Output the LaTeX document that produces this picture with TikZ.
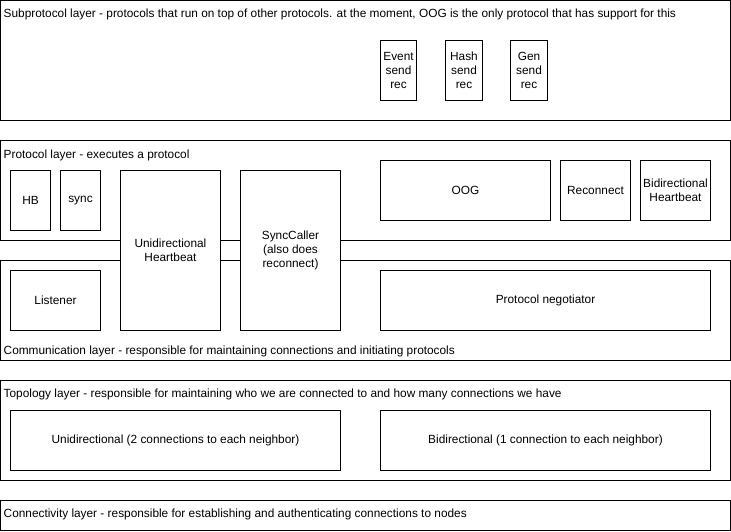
\documentclass[tikz,border=0pt]{standalone}
\usepackage{fontspec}
\setmainfont{Liberation Sans}
\begin{document}
\begin{tikzpicture}[x=1pt,y=-1pt,
  layer/.style={draw=black, line width=1pt, fill=white, inner sep=0pt, outer sep=0pt, anchor=north west},
  box/.style={draw=black, line width=1pt, fill=white, inner sep=0pt, outer sep=0pt, anchor=north west, align=center, font=\fontsize{11.85}{14}\selectfont},
  lbl/.style={inner sep=0pt, anchor=west, font=\fontsize{11.85}{14}\selectfont}]
\useasboundingbox (-0.5,-0.5) rectangle (730.5,530.5);
% layers
\node[layer, minimum width=730pt, minimum height=120pt] (sub) at (0,0) {};
\node[layer, minimum width=730pt, minimum height=100pt] (prot) at (0,140) {};
\node[layer, minimum width=730pt, minimum height=100pt] (comm) at (0,260) {};
\node[layer, minimum width=730pt, minimum height=100pt] (topo) at (0,380) {};
\node[layer, minimum width=730pt, minimum height=30pt] (conn) at (0,500) {};
% layer labels
\node[lbl] (subl) at (3,14) {Subprotocol layer - protocols that run on top of other protocols. at the moment, OOG is the only protocol that has support for this};
\node[lbl] (protl) at (3,154.5) {Protocol layer - executes a protocol};
\node[lbl] (comml) at (3,351) {Communication layer - responsible for maintaining connections and initiating protocols};
\node[lbl] (topol) at (3,394) {Topology layer - responsible for maintaining who we are connected to and how many connections we have};
\node[lbl] (connl) at (3,514) {Connectivity layer - responsible for establishing and authenticating connections to nodes};
% subprotocol boxes
\node[box, minimum width=36pt, minimum height=60pt] (event) at (380,40) {Event\\send\\rec};
\node[box, minimum width=37pt, minimum height=60pt] (hash) at (445,40) {Hash\\send\\rec};
\node[box, minimum width=37pt, minimum height=60pt] (gen) at (510,40) {Gen\\send\\rec};
% protocol layer boxes
\node[box, minimum width=40pt, minimum height=60pt] (hb) at (10,170) {HB};
\node[box, minimum width=40pt, minimum height=60pt] (sync) at (60,170) {sync};
\node[box, minimum width=170pt, minimum height=60pt] (oog) at (380,160) {OOG};
\node[box, minimum width=70pt, minimum height=60pt] (recon) at (560,160) {Reconnect};
\node[box, minimum width=70pt, minimum height=60pt] (bihb) at (640,160) {Bidirectional\\Heartbeat};
% spanning boxes
\node[box, minimum width=100pt, minimum height=160pt] (unihb) at (120,170) {Unidirectional\\Heartbeat};
\node[box, minimum width=100pt, minimum height=160pt] (syncc) at (240,170) {SyncCaller\\(also does\\reconnect)};
% communication layer boxes
\node[box, minimum width=90pt, minimum height=60pt] (listen) at (10,270) {Listener};
\node[box, minimum width=330pt, minimum height=60pt] (neg) at (380,270) {Protocol negotiator};
% topology boxes
\node[box, minimum width=330pt, minimum height=60pt] (unit) at (10,410) {Unidirectional (2 connections to each neighbor)};
\node[box, minimum width=330pt, minimum height=60pt] (bit) at (380,410) {Bidirectional (1 connection to each neighbor)};
\end{tikzpicture}
\end{document}
